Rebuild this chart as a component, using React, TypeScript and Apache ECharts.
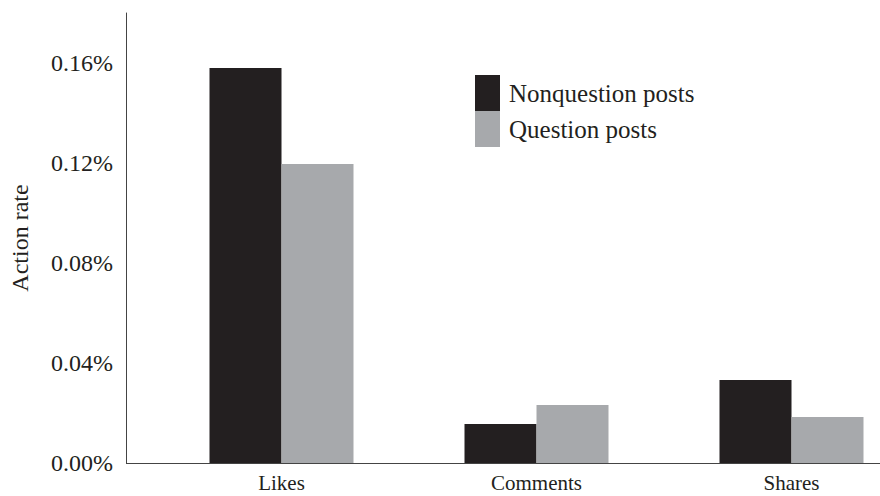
import React, { useEffect, useRef } from "react";
import * as echarts from "echarts";

const categories = ["Likes", "Comments", "Shares"];
const nonquestion = [0.158, 0.0156, 0.0332];
const question = [0.1196, 0.0232, 0.0184];
const seriesNames = ["Nonquestion posts", "Question posts"];

const FONT = "'Liberation Serif', 'DejaVu Serif', serif";

export default function App() {
  const ref = useRef<HTMLDivElement>(null);
  useEffect(() => {
    if (!ref.current) return;
    const chart = echarts.init(ref.current, undefined, { renderer: "svg" });
    chart.setOption({
      animation: false,
      textStyle: { fontFamily: FONT },
      grid: { left: 154, right: 0, top: 13, bottom: 33, containLabel: false },
      legend: {
        orient: "vertical",
        left: 475,
        top: 75,
        padding: 0,
        itemWidth: 25,
        itemHeight: 36,
        itemGap: 0,
        icon: "rect",
        textStyle: { fontFamily: FONT, fontSize: 25, color: "#231f20", padding: [0, 0, 0, 4] },
        data: seriesNames,
      },
      xAxis: {
        type: "category",
        data: categories,
        axisTick: { show: false },
        axisLine: { lineStyle: { color: "#444", width: 1 } },
        axisLabel: { fontFamily: FONT, fontSize: 21, color: "#231f20", margin: 9 },
      },
      yAxis: {
        type: "value",
        min: 0,
        max: 0.18,
        interval: 0.04,
        offset: 28,
        name: "Action rate",
        nameLocation: "middle",
        nameGap: 94,
        nameTextStyle: { fontFamily: FONT, fontSize: 24, color: "#231f20" },
        axisLine: { show: true, lineStyle: { color: "#444", width: 1 } },
        axisTick: { show: false },
        splitLine: { show: false },
        axisLabel: {
          fontFamily: FONT,
          fontSize: 24,
          color: "#231f20",
          margin: 13,
          showMaxLabel: false,
          formatter: (v: number) => v.toFixed(2) + "%",
        },
      },
      graphic: [
        {
          type: "line",
          shape: { x1: 126, y1: 463.5, x2: 154, y2: 463.5 },
          style: { stroke: "#444", lineWidth: 1 },
        },
      ],
      series: [
        {
          name: seriesNames[0],
          type: "bar",
          data: nonquestion,
          barWidth: 72,
          barGap: "0%",
          itemStyle: { color: "#231f20" },
        },
        {
          name: seriesNames[1],
          type: "bar",
          data: question,
          barWidth: 72,
          barGap: "0%",
          itemStyle: { color: "#a7a9ac" },
        },
      ],
    });
    return () => chart.dispose();
  }, []);
  return (
    <div
      ref={ref}
      style={{ position: "fixed", left: 0, top: 0, width: 919, height: 496, background: "#fff" }}
    />
  );
}
